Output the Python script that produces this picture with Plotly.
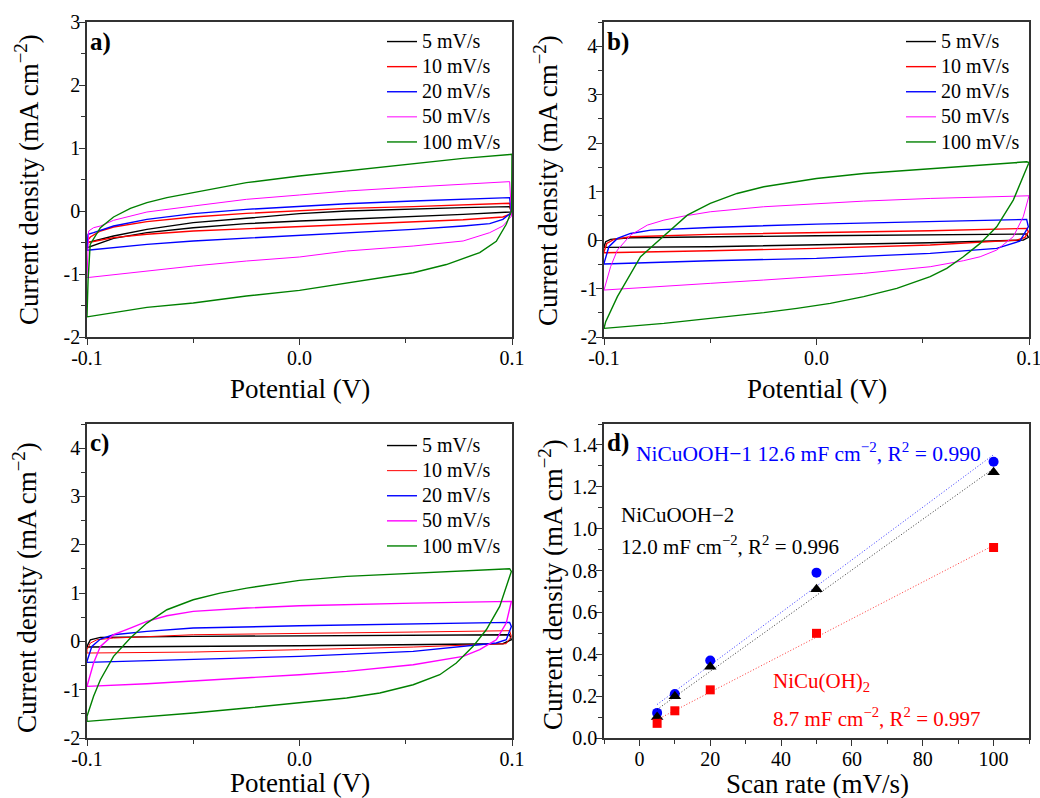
import numpy as np
import plotly.graph_objects as go

FONT = "Liberation Serif"
SCAN_LABELS = ["5 mV/s", "10 mV/s", "20 mV/s", "50 mV/s", "100 mV/s"]
COLORS = ["#000000", "#ff0000", "#0000ff", "#ff00ff", "#008000"]

# ---------------- panel a) CV loops (potential V, current mA cm-2) ----------------
A5_V = [-0.1, -0.0875, -0.0718, -0.05, -0.025, 0.0, 0.0222, 0.0535, 0.077, 0.0989,
        0.0997, 0.077, 0.0535, 0.0222, 0.0, -0.025, -0.05, -0.0718, -0.0875, -0.1, -0.1]
A5_I = [-0.503, -0.397, -0.291, -0.185, -0.116, -0.042, 0.0, 0.037, 0.053, 0.069,
        -0.016, -0.053, -0.09, -0.132, -0.159, -0.201, -0.265, -0.344, -0.434, -0.582, -0.503]
A10_V = [-0.1, -0.0984, -0.0937, -0.0875, -0.0718, -0.05, -0.025, 0.0, 0.0222, 0.0535, 0.077, 0.0989,
         0.0997, 0.0957, 0.077, 0.0535, 0.0222, 0.0, -0.025, -0.05, -0.0718, -0.0875, -0.1]
A10_I = [-0.476, -0.413, -0.317, -0.254, -0.169, -0.095, -0.037, 0.011, 0.042, 0.069, 0.095, 0.122,
         -0.042, -0.095, -0.138, -0.169, -0.212, -0.243, -0.275, -0.317, -0.37, -0.423, -0.503]
A20_V = [-0.1, -0.0995, -0.0969, -0.0875, -0.0718, -0.05, -0.025, 0.0, 0.0222, 0.0535, 0.077, 0.0989,
         0.0997, 0.0957, 0.0895, 0.077, 0.0535, 0.0222, 0.0, -0.025, -0.05, -0.0718, -0.0875, -0.1]
A20_I = [-0.61, -0.37, -0.344, -0.238, -0.132, -0.042, 0.026, 0.079, 0.116, 0.159, 0.185, 0.212,
         -0.026, -0.132, -0.201, -0.238, -0.291, -0.344, -0.381, -0.423, -0.476, -0.529, -0.582, -0.624]
A50_V = [-0.1, -0.0992, -0.0969, -0.0937, -0.0875, -0.0718, -0.05, -0.025, 0.0, 0.0222, 0.0535, 0.077, 0.0989,
         0.0998, 0.0957, 0.0895, 0.077, 0.0535, 0.0222, 0.0, -0.025, -0.05, -0.0718, -0.1]
A50_I = [-1.06, -0.317, -0.265, -0.238, -0.148, -0.016, 0.079, 0.185, 0.254, 0.317, 0.381, 0.423, 0.466,
         -0.079, -0.238, -0.344, -0.476, -0.556, -0.635, -0.73, -0.794, -0.873, -0.952, -1.058]
A100_V = [-0.1, -0.0995, -0.0985, -0.0937, -0.0875, -0.0796, -0.0718, -0.0624, -0.05, -0.025, 0.0, 0.0222,
          0.0535, 0.077, 0.1,
          0.0998, 0.0973, 0.0926, 0.0848, 0.0691, 0.0535, 0.0378, 0.0222, 0.0, -0.025, -0.05, -0.0718, -0.1]
A100_I = [-1.67, -1.1, -0.53, -0.265, -0.095, 0.042, 0.132, 0.212, 0.291, 0.45, 0.556, 0.635,
          0.757, 0.836, 0.90,
          0.0, -0.21, -0.48, -0.66, -0.85, -0.98, -1.06, -1.14, -1.26, -1.35, -1.46, -1.53, -1.68]

# ---------------- panel b) ----------------
B5_V = [-0.1, -0.0992, -0.0969, -0.0875, 0.0, 0.0989, 0.0997, 0.0973, 0.0535, 0.0, -0.05, -0.1, -0.1]
B5_I = [-0.137, -0.034, 0.014, 0.048, 0.089, 0.124, 0.055, 0.0, -0.055, -0.103, -0.137, -0.151, -0.137]
B10_V = [-0.1, -0.0987, -0.0953, -0.0875, -0.05, 0.0, 0.0535, 0.0989, 0.0997, 0.0981, 0.0942, 0.0535, 0.0,
         -0.05, -0.1, -0.1]
B10_I = [-0.241, -0.069, 0.014, 0.069, 0.117, 0.151, 0.192, 0.241, 0.172, 0.055, 0.0, -0.103, -0.172,
         -0.22, -0.261, -0.241]
B20_V = [-0.1, -0.0977, -0.0937, -0.0875, -0.078, -0.05, 0.0, 0.0535, 0.0989, 0.0997, 0.0957, 0.0848,
         0.0535, 0.0, -0.05, -0.1, -0.1]
B20_I = [-0.481, -0.137, 0.034, 0.137, 0.206, 0.261, 0.330, 0.385, 0.426, 0.275, -0.021, -0.172,
         -0.275, -0.378, -0.426, -0.495, -0.481]
B50_V = [-0.1, -0.0969, -0.0937, -0.0875, -0.0796, -0.0718, -0.0624, -0.05, -0.025, 0.0, 0.0222, 0.0535,
         0.077, 0.0989, 0.1, 0.0973, 0.0926, 0.0848, 0.077, 0.0691, 0.0535, 0.0222, 0.0, -0.025, -0.05,
         -0.0718, -0.1]
B50_I = [-1.031, -0.55, -0.206, 0.103, 0.309, 0.412, 0.495, 0.584, 0.687, 0.756, 0.804, 0.859,
         0.893, 0.914, 0.914, 0.481, 0.069, -0.206, -0.344, -0.426, -0.55, -0.687, -0.756, -0.825, -0.893,
         -0.948, -1.031]
B100_V = [-0.1, -0.0992, -0.0937, -0.0875, -0.0828, -0.0765, -0.0718, -0.0608, -0.05, -0.0374, -0.0248,
          0.0, 0.0222, 0.0535, 0.077, 0.0989, 0.1,
          0.0926, 0.0848, 0.077, 0.0691, 0.0613, 0.0535, 0.0378, 0.0222, 0.0065, -0.0092, -0.0248,
          -0.05, -0.0718, -0.1]
B100_I = [-1.821, -1.684, -1.168, -0.687, -0.344, -0.096, 0.089, 0.515, 0.756, 0.962, 1.10,
          1.271, 1.375, 1.478, 1.546, 1.615, 1.60,
          0.825, 0.275, -0.069, -0.344, -0.584, -0.756, -0.997, -1.168, -1.306, -1.409, -1.498,
          -1.615, -1.718, -1.821]

# ---------------- panel c) ----------------
C5_V = [-0.1, -0.0984, -0.0937, -0.05, 0.0989, 0.0997, 0.0957, 0.0, -0.1, -0.1]
C5_I = [-0.103, 0.034, 0.083, 0.103, 0.138, 0.034, -0.048, -0.09, -0.117, -0.103]
C10_V = [-0.1, -0.0984, -0.0953, -0.0875, -0.05, 0.0, 0.0535, 0.0989, 0.0997, 0.0973, 0.0535, 0.0,
         -0.05, -0.1, -0.1]
C10_I = [-0.172, -0.034, 0.034, 0.069, 0.138, 0.172, 0.193, 0.221, 0.103, -0.048, -0.117, -0.172,
         -0.221, -0.241, -0.172]
C20_V = [-0.1, -0.0977, -0.0937, -0.0875, -0.0718, -0.05, 0.0, 0.0535, 0.0989, 0.0997, 0.0973, 0.0926,
         0.0535, 0.0, -0.05, -0.1, -0.1]
C20_I = [-0.414, -0.103, 0.048, 0.138, 0.207, 0.276, 0.324, 0.366, 0.393, 0.31, 0.034, -0.034,
         -0.207, -0.31, -0.379, -0.434, -0.414]
C50_V = [-0.1, -0.0969, -0.0937, -0.0875, -0.0796, -0.0718, -0.0624, -0.05, -0.0248, 0.0, 0.0535, 0.0989,
         0.0997, 0.0973, 0.0926, 0.0848, 0.077, 0.0535, 0.0222, 0.0, -0.0248, -0.05, -0.0718, -0.1]
C50_I = [-0.931, -0.448, -0.103, 0.138, 0.276, 0.414, 0.531, 0.621, 0.69, 0.738, 0.793, 0.828,
         0.828, 0.379, 0.034, -0.172, -0.31, -0.483, -0.621, -0.69, -0.759, -0.828, -0.876, -0.931]
C100_V = [-0.1, -0.1, -0.0969, -0.0937, -0.0875, -0.0796, -0.0718, -0.0624, -0.05, -0.0374, -0.0248, 0.0,
          0.0222, 0.0535, 0.077, 0.0989,
          0.0997, 0.0942, 0.0879, 0.0817, 0.0738, 0.066, 0.0535, 0.0378, 0.0222, 0.0, -0.0248, -0.05,
          -0.0718, -0.1]
C100_I = [-1.655, -1.552, -1.138, -0.793, -0.31, 0.069, 0.379, 0.655, 0.862, 1.0, 1.103, 1.262,
          1.345, 1.414, 1.462, 1.503,
          1.448, 0.724, 0.241, -0.103, -0.448, -0.69, -0.897, -1.069, -1.172, -1.276, -1.379, -1.483,
          -1.552, -1.655]

# ---------------- panel d) current density vs scan rate ----------------
SCAN_RATE = [5, 10, 20, 50, 100]
J_NICUOOH1 = [0.12, 0.21, 0.37, 0.79, 1.32]
J_NICUOOH2 = [0.10, 0.20, 0.34, 0.71, 1.27]
J_NICUOH2 = [0.07, 0.13, 0.23, 0.50, 0.91]

CV_TICKS_X = [-0.1, 0.0, 0.1]
CV_TICK_TEXT_X = ["-0.1", "0.0", "0.1"]
A_TICKS_Y = [-2, -1, 0, 1, 2, 3]
BC_TICKS_Y = [-2, -1, 0, 1, 2, 3, 4]
D_TICKS_X = [0, 20, 40, 60, 80, 100]
D_TICKS_Y = [0.0, 0.2, 0.4, 0.6, 0.8, 1.0, 1.2, 1.4]

W, H = 1040, 798


def px(x):
    return x / W


def py(y):
    return 1 - y / H


fig = go.Figure()

panels = [
    ("x", "y", "legend", [(A5_V, A5_I), (A10_V, A10_I), (A20_V, A20_I), (A50_V, A50_I), (A100_V, A100_I)],
     [1.4, 1.4, 1.4, 1.0, 1.4]),
    ("x2", "y2", "legend2", [(B5_V, B5_I), (B10_V, B10_I), (B20_V, B20_I), (B50_V, B50_I), (B100_V, B100_I)],
     [1.4, 1.4, 1.4, 1.0, 1.4]),
    ("x3", "y3", "legend3", [(C5_V, C5_I), (C10_V, C10_I), (C20_V, C20_I), (C50_V, C50_I), (C100_V, C100_I)],
     [1.4, 1.0, 1.4, 1.4, 1.4]),
]
for xa, ya, lg, loops, widths in panels:
    for (v, i), name, col, w in zip(loops, SCAN_LABELS, COLORS, widths):
        fig.add_trace(go.Scatter(x=v, y=i, mode="lines",
                                 name='<span style="font-size:20px">%s</span>' % name,
                                 xaxis=xa, yaxis=ya, legend=lg, line=dict(color=col, width=w)))

# panel d
series_d = [
    (J_NICUOOH1, "#0000ff", "circle", 10),
    (J_NICUOOH2, "#000000", "triangle-up", 11),
    (J_NICUOH2, "#ff0000", "square", 9),
]
for ys, col, sym, sz in series_d:
    slope, icpt = np.polyfit(SCAN_RATE, ys, 1)
    xf = [SCAN_RATE[0], SCAN_RATE[-1]]
    fig.add_trace(go.Scatter(x=xf, y=[slope * x + icpt for x in xf], mode="lines", xaxis="x4", yaxis="y4",
                             showlegend=False, line=dict(color=col, width=0.8, dash="1px,2px")))
    fig.add_trace(go.Scatter(x=SCAN_RATE, y=ys, mode="markers", xaxis="x4", yaxis="y4", showlegend=False,
                             marker=dict(color=col, symbol=sym, size=sz, line=dict(width=0))))

axis_common = dict(showline=True, linecolor="#333333", linewidth=1.5, mirror=True, ticks="outside",
                   ticklen=6, tickwidth=1.3, tickcolor="#333333", showgrid=False, zeroline=False,
                   automargin=False, ticklabeloverflow="allow",
                   tickfont=dict(family=FONT, size=20, color="#000000"))
minor_common = dict(ticks="outside", ticklen=4, tickwidth=1.2, tickcolor="#333333", showgrid=False)
XSO = -4
YSO = -5

dom_x_left = [px(87), px(512)]
dom_x_right = [px(604), px(1029)]
dom_y_top = [py(337), py(22)]
dom_y_bot = [py(738), py(424)]

fig.update_layout(
    width=W, height=H, margin=dict(l=0, r=0, t=0, b=0, autoexpand=False),
    paper_bgcolor="white", plot_bgcolor="white",
    font=dict(family=FONT, color="#000000"),
    xaxis=dict(domain=dom_x_left, anchor="y", range=[-0.1, 0.1], tickvals=CV_TICKS_X,
               ticktext=CV_TICK_TEXT_X, ticklabelstandoff=XSO,
               minor=dict(dtick=0.05, **minor_common), **axis_common),
    yaxis=dict(domain=dom_y_top, anchor="x", range=[-2, 3], tickvals=A_TICKS_Y,
               ticktext=[str(t) for t in A_TICKS_Y], ticklabelstandoff=YSO,
               minor=dict(dtick=0.5, **minor_common), **axis_common),
    xaxis2=dict(domain=dom_x_right, anchor="y2", range=[-0.1, 0.1], tickvals=CV_TICKS_X,
                ticktext=CV_TICK_TEXT_X, ticklabelstandoff=XSO,
                minor=dict(dtick=0.05, **minor_common), **axis_common),
    yaxis2=dict(domain=dom_y_top, anchor="x2", range=[-2, 4.5], tickvals=BC_TICKS_Y,
                ticktext=[str(t) for t in BC_TICKS_Y], ticklabelstandoff=YSO,
                minor=dict(dtick=0.5, **minor_common), **axis_common),
    xaxis3=dict(domain=dom_x_left, anchor="y3", range=[-0.1, 0.1], tickvals=CV_TICKS_X,
                ticktext=CV_TICK_TEXT_X, ticklabelstandoff=XSO,
                minor=dict(dtick=0.05, **minor_common), **axis_common),
    yaxis3=dict(domain=dom_y_bot, anchor="x3", range=[-2, 4.5], tickvals=BC_TICKS_Y,
                ticktext=[str(t) for t in BC_TICKS_Y], ticklabelstandoff=YSO,
                minor=dict(dtick=0.5, **minor_common), **axis_common),
    xaxis4=dict(domain=dom_x_right, anchor="y4", range=[-10, 110], tickvals=D_TICKS_X,
                ticktext=[str(t) for t in D_TICKS_X], ticklabelstandoff=XSO,
                minor=dict(dtick=10, **minor_common), **axis_common),
    yaxis4=dict(domain=dom_y_bot, anchor="x4", range=[0, 1.5], tickvals=D_TICKS_Y,
                ticktext=["%.1f" % t for t in D_TICKS_Y], ticklabelstandoff=YSO,
                minor=dict(dtick=0.1, **minor_common), **axis_common),
)

legend_common = dict(bgcolor="rgba(0,0,0,0)", borderwidth=0, font=dict(family=FONT, size=17, color="#000000"),
                     xanchor="left", yanchor="top", tracegroupgap=0, itemwidth=30)
fig.update_layout(
    legend=dict(x=px(382), y=py(24), **legend_common),
    legend2=dict(x=px(901), y=py(24), **legend_common),
    legend3=dict(x=px(382), y=py(428), **legend_common),
)

ann = []
TITLE_SIZE = 27
for cx, cy in [(300, 389), (817, 389), (300, 783)]:
    ann.append(dict(text="Potential (V)", x=px(cx), y=py(cy), xref="paper", yref="paper", showarrow=False,
                    xanchor="center", yanchor="middle", font=dict(size=TITLE_SIZE)))
ann.append(dict(text="Scan rate (mV/s)", x=px(817), y=py(784), xref="paper", yref="paper", showarrow=False,
                xanchor="center", yanchor="middle", font=dict(size=TITLE_SIZE)))
for cx, cy in [(27, 180), (546, 181), (25, 588), (551, 585)]:
    ann.append(dict(text="Current density (mA cm<sup>−2</sup>)", x=px(cx), y=py(cy), xref="paper",
                    yref="paper", showarrow=False, textangle=-90, xanchor="center", yanchor="middle",
                    font=dict(size=TITLE_SIZE)))
for lab, cx, cy in [("a)", 88, 42), ("b)", 605, 42), ("c)", 88, 443), ("d)", 605, 443)]:
    ann.append(dict(text="<b>%s</b>" % lab, x=px(cx), y=py(cy), xref="paper", yref="paper", showarrow=False,
                    xanchor="left", yanchor="middle", font=dict(size=25)))

TXT = 21
ann.append(dict(text="NiCuOOH−1 12.6 mF cm<sup>−2</sup>, R<sup>2</sup> = 0.990", x=px(634), y=py(452),
                xref="paper", yref="paper", showarrow=False, xanchor="left", yanchor="middle",
                font=dict(size=21.5, color="#0000ff")))
ann.append(dict(text="NiCuOOH−2", x=px(619), y=py(515), xref="paper", yref="paper", showarrow=False,
                xanchor="left", yanchor="middle", font=dict(size=TXT, color="#000000")))
ann.append(dict(text="12.0 mF cm<sup>−2</sup>, R<sup>2</sup> = 0.996", x=px(619), y=py(545),
                xref="paper", yref="paper", showarrow=False, xanchor="left", yanchor="middle",
                font=dict(size=TXT, color="#000000")))
ann.append(dict(text="NiCu(OH)<sub>2</sub>", x=px(771), y=py(682), xref="paper", yref="paper",
                showarrow=False, xanchor="left", yanchor="middle", font=dict(size=TXT, color="#ff0000")))
ann.append(dict(text="8.7 mF cm<sup>−2</sup>, R<sup>2</sup> = 0.997", x=px(771), y=py(717),
                xref="paper", yref="paper", showarrow=False, xanchor="left", yanchor="middle",
                font=dict(size=TXT, color="#ff0000")))
fig.update_layout(annotations=ann)

fig.write_html("out.html")
